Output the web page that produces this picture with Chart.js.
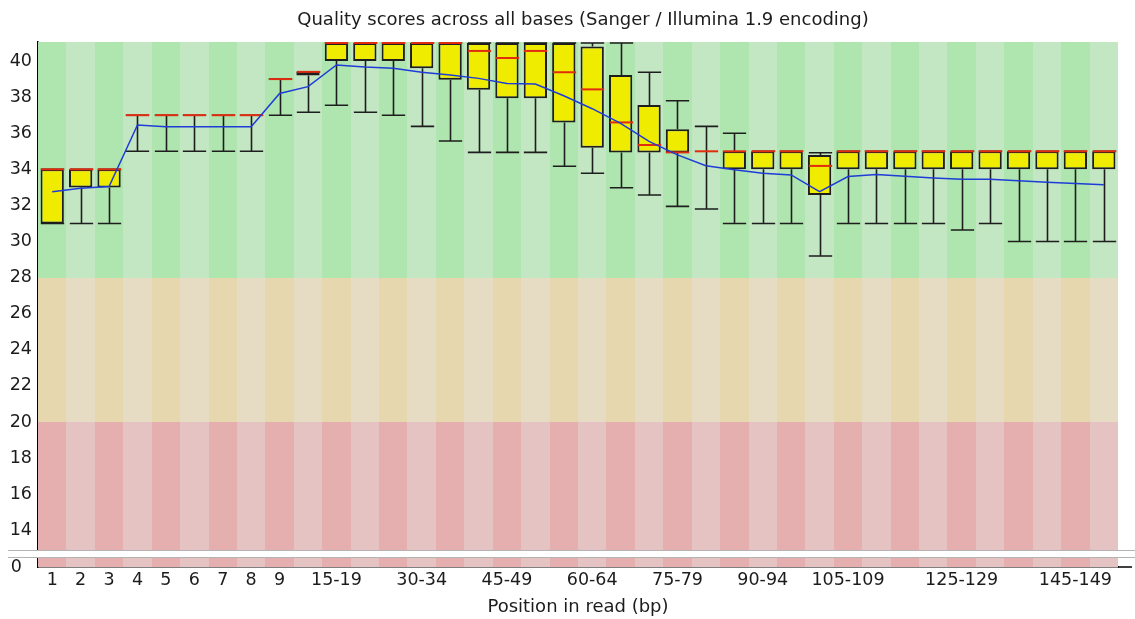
<!DOCTYPE html>
<html>
<head>
<meta charset="utf-8">
<script src="https://cdn.jsdelivr.net/npm/chart.js@4.4.1/dist/chart.umd.min.js"></script>
<style>
  html, body { margin: 0; padding: 0; background: #fff; }
  #wrap { width: 1135px; height: 619px; }
</style>
</head>
<body>
<div id="wrap"><canvas id="chart" width="1135" height="619"></canvas></div>
<script>
// Base positions (single bases, then 5 bp bins)
const positions = ['1','2','3','4','5','6','7','8','9','10-14','15-19','20-24','25-29','30-34','35-39','40-44','45-49','50-54','55-59','60-64','65-69','70-74','75-79','80-84','85-89','90-94','95-99','100-104','105-109','110-114','115-119','120-124','125-129','130-134','135-139','140-144','145-149','150-151'];
// Position labels printed under the axis
const shownLabels = ['1','2','3','4','5','6','7','8','9','15-19','30-34','45-49','60-64','75-79','90-94','105-109','125-129','145-149'];

// Per-position quality statistics
const meanQ = [32.76,32.95,33.05,36.46,36.36,36.36,36.36,36.36,38.2,38.58,39.78,39.67,39.6,39.38,39.23,39.04,38.75,38.73,38.08,37.36,36.55,35.55,34.8,34.2,33.98,33.78,33.69,32.76,33.6,33.71,33.62,33.52,33.45,33.45,33.37,33.28,33.22,33.15];
const medianQ = [34,34,34,37,37,37,37,37,39,39.4,41,41,41,41,41,40.56,40.17,40.56,39.38,38.43,36.6,35.35,34.94,35,35,35,35,34.19,35,35,35,35,35,35,35,35,35,35];
const lowerQuartile = [31,33,33,37,37,37,37,37,39,39.2,40,40,40,39.6,38.97,38.41,37.94,37.94,36.6,35.2,34.94,34.94,34.94,35,34,34,34,32.58,34,34,34,34,34,34,34,34,34,34];
const upperQuartile = [34,34,34,37,37,37,37,37,39,39.4,41,41,41,41,41,41,41,41,41,40.8,39.23,37.57,36.22,35,35,35,35,34.8,35,35,35,35,35,35,35,35,35,35];
const lowerDecile = [31,31,31,35,35,35,35,35,37,37.16,37.55,37.16,37,36.38,35.57,34.94,34.94,34.94,34.17,33.78,32.98,32.58,31.95,31.8,31,31,31,29.2,31,31,31,31,30.64,31,30,30,30,30];
const upperDecile = [34,34,34,37,37,37,37,37,39,39.4,41,41,41,41,41,41,41,41,41,41,41,39.38,37.8,36.38,36,35,35,34.92,35,35,35,35,35,35,35,35,35,35];

// Axis ticks
const qualityTicks = [14,16,18,20,22,24,26,28,30,32,34,36,38,40];
const baseTicks = [0];

// Quality zones: good above 28, reasonable 20-28, poor below 20
const goodFrom = 28;
const okFrom = 20;
const zoneColors = {
  good: ['rgb(175,230,175)', 'rgb(195,230,195)'],
  ok:   ['rgb(230,215,175)', 'rgb(230,220,195)'],
  poor: ['rgb(230,175,175)', 'rgb(230,195,195)']
};

const titleText = 'Quality scores across all bases (Sanger / Illumina 1.9 encoding)';
const FONT = '"DejaVu Sans", "Liberation Sans", sans-serif';
const TEXT = '#1c1c1c';

// Alternating coloured stripes behind every position
const zoneBands = {
  id: 'zoneBands',
  beforeDatasetsDraw(chart) {
    const { ctx, chartArea } = chart;
    const xs = chart.scales.x, ys = chart.scales.y;
    const half = (xs.getPixelForValue(1) - xs.getPixelForValue(0)) / 2;
    const yGood = Math.round(ys.getPixelForValue(goodFrom));
    const yOk = Math.round(ys.getPixelForValue(okFrom));
    const top = chartArea.top, bottom = chartArea.bottom;
    ctx.save();
    positions.forEach((p, i) => {
      const c = xs.getPixelForValue(i);
      const x0 = Math.round(c - half), x1 = Math.round(c + half);
      const k = i % 2;
      ctx.fillStyle = zoneColors.good[k];
      ctx.fillRect(x0, top, x1 - x0, yGood - top);
      ctx.fillStyle = zoneColors.ok[k];
      ctx.fillRect(x0, yGood, x1 - x0, yOk - yGood);
      ctx.fillStyle = zoneColors.poor[k];
      ctx.fillRect(x0, yOk, x1 - x0, bottom - yOk);
    });
    ctx.restore();
  }
};

// Whiskers (10th / 90th percentile) and median marks drawn right after the boxes
const whiskers = {
  id: 'whiskers',
  afterDatasetDraw(chart, args) {
    if (args.meta.type !== 'bar') return;
    const { ctx } = chart;
    const ys = chart.scales.y;
    ctx.save();
    args.meta.data.forEach((bar, i) => {
      const cx = Math.round(bar.x) + 0.5;
      const hw = bar.width / 2;
      const yLo = ys.getPixelForValue(lowerDecile[i]);
      const yQ1 = ys.getPixelForValue(lowerQuartile[i]);
      const yQ3 = ys.getPixelForValue(upperQuartile[i]);
      const yHi = ys.getPixelForValue(upperDecile[i]);
      ctx.strokeStyle = '#1e1e1e';
      ctx.lineWidth = 1.6;
      ctx.beginPath();
      ctx.moveTo(cx, yLo); ctx.lineTo(cx, yQ1);
      ctx.moveTo(cx, yQ3); ctx.lineTo(cx, yHi);
      ctx.moveTo(cx - hw, yLo); ctx.lineTo(cx + hw, yLo);
      ctx.moveTo(cx - hw, yHi); ctx.lineTo(cx + hw, yHi);
      ctx.stroke();
      const yMed = ys.getPixelForValue(medianQ[i]);
      ctx.strokeStyle = 'rgb(225,45,15)';
      ctx.lineWidth = 2;
      ctx.beginPath();
      ctx.moveTo(cx - hw, yMed); ctx.lineTo(cx + hw, yMed);
      ctx.stroke();
    });
    ctx.restore();
  }
};

// Axis break between the quality range and the zero line, plus the chart title
const axisBreak = {
  id: 'axisBreak',
  afterDraw(chart) {
    const { ctx, chartArea, width } = chart;
    const yb = Math.round(chart.scales.y.bottom);
    ctx.save();
    ctx.fillStyle = '#fff';
    ctx.fillRect(8, yb - 3, width - 8, 6);
    ctx.strokeStyle = '#b4b4b4';
    ctx.lineWidth = 1;
    ctx.beginPath();
    ctx.moveTo(8, yb - 3.5); ctx.lineTo(width, yb - 3.5);
    ctx.moveTo(8, yb + 3.5); ctx.lineTo(width, yb + 3.5);
    ctx.stroke();
    // x axis line runs a little past the last position
    ctx.strokeStyle = '#000';
    ctx.lineWidth = 1.5;
    ctx.beginPath();
    ctx.moveTo(chartArea.right, chartArea.bottom);
    ctx.lineTo(chartArea.right + 14, chartArea.bottom);
    ctx.stroke();
    ctx.fillStyle = TEXT;
    ctx.font = '18px ' + FONT;
    ctx.textAlign = 'center';
    ctx.textBaseline = 'middle';
    ctx.fillText(titleText, (chartArea.left + chartArea.right) / 2 + 5, 20);
    ctx.restore();
  }
};

const tickFont = { family: FONT, size: 17.5 };

new Chart(document.getElementById('chart'), {
  data: {
    labels: positions,
    datasets: [
      {
        type: 'line',
        label: 'Mean quality',
        data: meanQ,
        yAxisID: 'y',
        borderColor: 'rgb(30,60,215)',
        borderWidth: 1.5,
        pointRadius: 0,
        tension: 0,
        order: 0
      },
      {
        type: 'bar',
        label: 'Inter-quartile range',
        data: lowerQuartile.map((q, i) => [q, upperQuartile[i]]),
        yAxisID: 'y',
        backgroundColor: 'rgb(240,236,0)',
        borderColor: '#1e1e1e',
        borderWidth: 2,
        borderSkipped: false,
        barPercentage: 0.82,
        categoryPercentage: 1,
        order: 1
      }
    ]
  },
  options: {
    responsive: false,
    animation: false,
    devicePixelRatio: 1,
    layout: { padding: { top: 42, right: 17, left: 0, bottom: 0 } },
    plugins: {
      legend: { display: false },
      tooltip: { enabled: false },
      title: { display: false }
    },
    scales: {
      x: {
        type: 'category',
        offset: true,
        grid: { display: false, drawTicks: false },
        border: { color: '#000', width: 1.5 },
        ticks: {
          autoSkip: false,
          maxRotation: 0,
          font: tickFont,
          color: TEXT,
          padding: 3,
          callback: (v, i) => shownLabels.includes(positions[i]) ? positions[i] : ''
        },
        title: {
          display: true,
          text: 'Position in read (bp)',
          font: { family: FONT, size: 18 },
          color: TEXT,
          padding: { top: 0, bottom: 1 }
        },
        afterFit: s => { s.height = 52; }
      },
      y: {
        type: 'linear',
        position: 'left',
        stack: 'quality',
        stackWeight: 512,
        weight: 2,
        min: 12.69,
        max: 41.055,
        afterBuildTicks: s => { s.ticks = qualityTicks.map(v => ({ value: v })); },
        grid: { display: false, drawTicks: false },
        border: { color: '#000', width: 1.5 },
        ticks: { autoSkip: false, font: tickFont, color: TEXT, padding: 6 },
        afterFit: s => { s.width = 38; }
      },
      y0: {
        type: 'linear',
        position: 'left',
        stack: 'quality',
        stackWeight: 13,
        weight: 1,
        min: 0,
        max: 1,
        afterBuildTicks: s => { s.ticks = baseTicks.map(v => ({ value: v })); },
        grid: { display: false, drawTicks: false },
        border: { color: '#000', width: 1.5 },
        ticks: { autoSkip: false, font: tickFont, color: TEXT, padding: 16 },
        afterFit: s => { s.width = 38; }
      }
    }
  },
  plugins: [zoneBands, whiskers, axisBreak]
});
</script>
</body>
</html>
